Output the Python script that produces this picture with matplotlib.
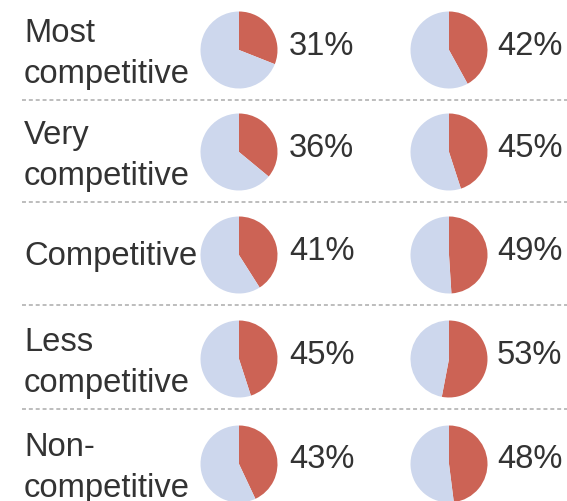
import matplotlib
matplotlib.use("Agg")
import matplotlib.pyplot as plt

# Data
categories = ["Most\ncompetitive", "Very\ncompetitive", "Competitive",
              "Less\ncompetitive", "Non-\ncompetitive"]
share_left = [31, 36, 41, 45, 43]
share_right = [42, 45, 49, 53, 48]

RED = "#cc6355"
BLUE = "#cdd7ed"
TEXT = "#333333"
W, H = 567, 501

fig = plt.figure(figsize=(W / 100, H / 100), dpi=100)
ax = fig.add_axes([0, 0, 1, 1])

row_centers = [50, 152, 255, 359, 464]   # pixel rows from top
seps = [100, 202, 305, 409]
col_x = [239, 449]
pct_x = [289, 497]
radius = 38.5

def Y(yp):
    return H - yp

for i, cat in enumerate(categories):
    yc = Y(row_centers[i])
    dy = -4 if "\n" in cat else -1
    ax.text(24, yc + dy, cat, ha="left", va="center", fontsize=23.6,
            family="Liberation Sans", color=TEXT, linespacing=1.42)
    for j, vals in enumerate([share_left, share_right]):
        v = vals[i]
        ax.pie([v, 100 - v], colors=[RED, BLUE], startangle=90,
               counterclock=False, center=(col_x[j], yc), radius=radius,
               frame=True)
        ax.text(pct_x[j], yc + 4, f"{v}%", ha="left", va="center",
                fontsize=23.5, family="Liberation Sans", color=TEXT)

for s in seps:
    ax.plot([22, W], [Y(s), Y(s)], color="#b8b8b8", lw=1.3,
            linestyle=(0, (2.2, 1.6)))

ax.set_xlim(0, W)
ax.set_ylim(0, H)
ax.set_aspect("auto")
ax.axis("off")
fig.savefig("out.png", dpi=100)
